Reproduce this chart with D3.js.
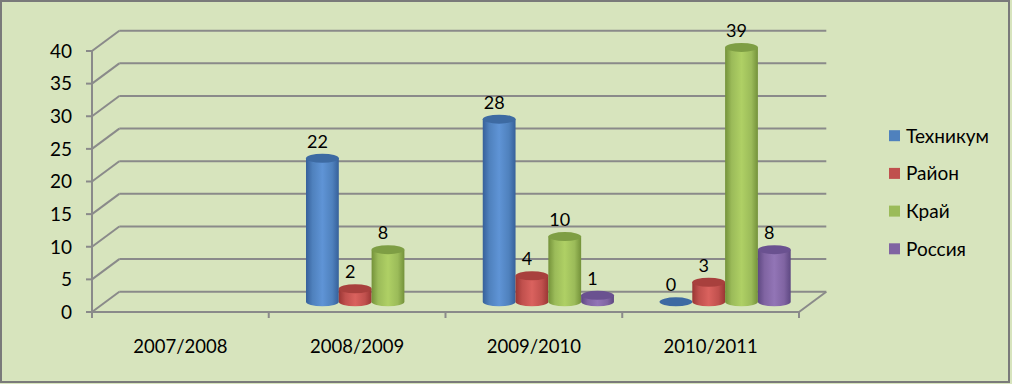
<!DOCTYPE html>
<html><head><meta charset="utf-8">
<script src="https://cdn.jsdelivr.net/npm/d3@7"></script>
<style>
html,body{margin:0;padding:0;background:#fff;}
svg{display:block;font-family:Lato,"Noto Sans",sans-serif;}
</style></head>
<body>
<svg id="chart" width="1012" height="384"></svg>
<script>
// ---- data ----
const categories = ["2007/2008", "2008/2009", "2009/2010", "2010/2011"];
const seriesNames = ["Техникум", "Район", "Край", "Россия"];
const tehnikum = [null, 22, 28, 0];
const raion    = [null, 2, 4, 3];
const krai     = [null, 8, 10, 39];
const rossiya  = [null, null, 1, 8];
const yTicks = [0, 5, 10, 15, 20, 25, 30, 35, 40];

const seriesValues = [tehnikum, raion, krai, rossiya];
const palette = [
  {base:"#4F81BD", dark:"#36609A", light:"#5F94D6", top:"#3D6AA2"},
  {base:"#C0504D", dark:"#9A3634", light:"#DA625E", top:"#A8403D"},
  {base:"#9BBB59", dark:"#74923A", light:"#AFD065", top:"#7E9E44"},
  {base:"#8064A2", dark:"#5E4882", light:"#9275B6", top:"#6A5190"}
];

const svg = d3.select("#chart");
const W = 1012, H = 384;
svg.append("rect").attr("x",0).attr("y",0).attr("width",W).attr("height",H).attr("fill","#D7E4BD");
svg.append("rect").attr("x",1).attr("y",1).attr("width",W-4).attr("height",H-3)
  .attr("fill","none").attr("stroke","#7A7A7A").attr("stroke-width",2);

// layout
const left = 92, right = 799, floorY = 312, topY = 51;
const depthX = 27.3, depthY = -20.3;
const y = d3.scaleLinear().domain([0, 40]).range([floorY, topY]);
const x = d3.scaleBand().domain(categories).range([left, right]);
const inner = d3.scaleBand().domain(seriesNames).range([23.6, 23.6 + 4 * 32.8]);

const gridColor = "#8A8A8A";
const grid = svg.append("g");
yTicks.forEach(t => {
  grid.append("line").attr("x1", left + depthX).attr("x2", right + depthX)
    .attr("y1", y(t) + depthY).attr("y2", y(t) + depthY)
    .attr("stroke", gridColor).attr("stroke-width", 2);
  grid.append("line").attr("x1", left).attr("x2", left + depthX)
    .attr("y1", y(t)).attr("y2", y(t) + depthY)
    .attr("stroke", gridColor).attr("stroke-width", 2);
  grid.append("line").attr("x1", left - 6).attr("x2", left)
    .attr("y1", y(t)).attr("y2", y(t))
    .attr("stroke", gridColor).attr("stroke-width", 2);
});
grid.append("line").attr("x1", left).attr("x2", right).attr("y1", floorY).attr("y2", floorY)
  .attr("stroke", gridColor).attr("stroke-width", 2);
grid.append("line").attr("x1", right).attr("x2", right + depthX).attr("y1", floorY).attr("y2", floorY + depthY)
  .attr("stroke", gridColor).attr("stroke-width", 2);
grid.append("line").attr("x1", left).attr("x2", left).attr("y1", y(40)).attr("y2", floorY)
  .attr("stroke", gridColor).attr("stroke-width", 2);
const catEdges = categories.map(c => x(c)).concat([right]);
catEdges.forEach(e => {
  grid.append("line").attr("x1", e).attr("x2", e).attr("y1", floorY).attr("y2", floorY + 6)
    .attr("stroke", gridColor).attr("stroke-width", 2);
});

svg.append("g").selectAll("text").data(yTicks).join("text")
  .attr("x", 72).attr("y", d => y(d)).attr("dy", "0.36em")
  .attr("text-anchor", "end").attr("font-size", 19).attr("fill", "#000")
  .text(d => d);
svg.append("g").selectAll("text").data(categories).join("text")
  .attr("x", d => x(d) + x.bandwidth() / 2).attr("y", 346).attr("dy", "0.36em")
  .attr("text-anchor", "middle").attr("font-size", 18.5).attr("fill", "#000")
  .text(d => d);

const defs = svg.append("defs");
palette.forEach((p, i) => {
  const g = defs.append("linearGradient").attr("id", "cyl" + i).attr("x1", 0).attr("x2", 1).attr("y1", 0).attr("y2", 0);
  g.append("stop").attr("offset", "0%").attr("stop-color", p.dark);
  g.append("stop").attr("offset", "20%").attr("stop-color", p.base);
  g.append("stop").attr("offset", "50%").attr("stop-color", p.light);
  g.append("stop").attr("offset", "80%").attr("stop-color", p.base);
  g.append("stop").attr("offset", "100%").attr("stop-color", p.dark);
});

const midX = depthX / 2, midY = depthY / 2;
const rx = inner.bandwidth() / 2, ry = 4.5;
const bars = svg.append("g");
const labels = svg.append("g");
categories.forEach((c, ci) => {
  seriesNames.forEach((s, si) => {
    const v = seriesValues[si][ci];
    if (v === null || v === undefined) return;
    const x0 = x(c) + inner(s) + midX;
    const x1 = x0 + inner.bandwidth();
    const cx = (x0 + x1) / 2;
    const yb = y(0) + midY;
    const yt = y(v) + midY;
    const p = palette[si];
    if (v > 0) {
      bars.append("path")
        .attr("d", `M${x0},${yt} L${x0},${yb} A${rx},${ry} 0 0 0 ${x1},${yb} L${x1},${yt} Z`)
        .attr("fill", `url(#cyl${si})`);
    }
    bars.append("ellipse").attr("cx", cx).attr("cy", yt).attr("rx", rx).attr("ry", ry)
      .attr("fill", p.top);
    labels.append("text").attr("x", cx - 5).attr("y", yt - 17).attr("dy", "0.36em")
      .attr("text-anchor", "middle").attr("font-size", 18).attr("fill", "#000")
      .text(v);
  });
});

const legend = svg.append("g");
seriesNames.forEach((s, i) => {
  const cy = 135.7 + i * 37.7;
  legend.append("rect").attr("x", 889).attr("y", cy - 5.5).attr("width", 11).attr("height", 11)
    .attr("fill", palette[i].base);
  legend.append("text").attr("x", 906).attr("y", cy).attr("dy", "0.36em")
    .attr("font-size", 19).attr("fill", "#000").text(s);
});
</script>
</body></html>
